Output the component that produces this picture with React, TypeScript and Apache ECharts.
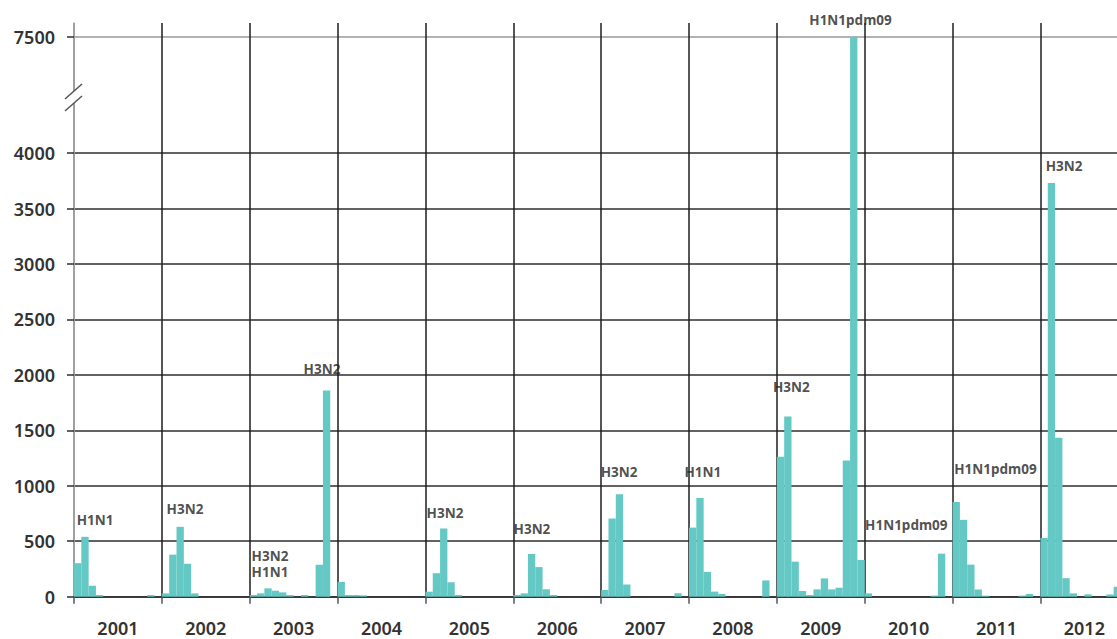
import React, { useEffect, useRef } from 'react';
import * as echarts from 'echarts';

const years = ['2001', '2002', '2003', '2004', '2005', '2006', '2007', '2008', '2009', '2010', '2011', '2012'];

const cases2001 = [302, 540, 99, 15, 0, 0, 0, 0, 0, 0, 15, 0];
const cases2002 = [30, 379, 630, 297, 30, 0, 0, 0, 0, 0, 0, 0];
const cases2003 = [15, 30, 75, 54, 39, 15, 0, 15, 0, 288, 1860, 0];
const cases2004 = [133, 15, 15, 12, 0, 0, 0, 0, 0, 0, 0, 0];
const cases2005 = [45, 212, 615, 130, 15, 0, 0, 0, 0, 0, 0, 0];
const cases2006 = [15, 30, 385, 267, 67, 15, 0, 0, 0, 0, 0, 0];
const cases2007 = [61, 705, 923, 110, 0, 0, 0, 0, 0, 0, 31, 0];
const cases2008 = [623, 890, 224, 46, 25, 0, 0, 0, 0, 0, 147, 0];
const cases2009 = [1263, 1624, 316, 51, 15, 66, 165, 66, 81, 1227, 7500, 331];
const cases2010 = [30, 0, 0, 0, 0, 0, 0, 0, 0, 10, 388, 0];
const cases2011 = [854, 693, 289, 65, 9, 0, 0, 0, 0, 10, 25, 0];
const cases2012 = [530, 3730, 1433, 167, 30, 0, 21, 0, 0, 20, 90, 0];

const yTickValues = [0, 500, 1000, 1500, 2000, 2500, 3000, 3500, 4000, 7500];

// annotations: subtype text, position in months from Jan 2001, value level
const annotationTexts = ['H1N1', 'H3N2', 'H3N2', 'H1N1', 'H3N2', 'H3N2', 'H3N2', 'H3N2', 'H1N1', 'H3N2', 'H1N1pdm09', 'H1N1pdm09', 'H1N1pdm09', 'H3N2'];
const annotationMonths = [2.87, 15.16, 26.77, 26.77, 33.87, 50.67, 62.55, 74.44, 85.88, 97.97, 106.06, 113.68, 125.86, 135.22];
const annotationValues = [692, 791, 366, 222, 2053, 755, 606, 1120, 1120, 1893, 8000, 647, 1152, 3884];

const BREAK_FROM = 4000;
const BREAK_SCALE = 0.3;
const toDisplay = (v: number) => (v <= BREAK_FROM ? v : BREAK_FROM + (v - BREAK_FROM) * BREAK_SCALE);
const fromDisplay = (d: number) => (d <= BREAK_FROM ? d : BREAK_FROM + (d - BREAK_FROM) / BREAK_SCALE);

const allCases = [
  ...cases2001, ...cases2002, ...cases2003, ...cases2004, ...cases2005, ...cases2006,
  ...cases2007, ...cases2008, ...cases2009, ...cases2010, ...cases2011, ...cases2012,
];
const monthCats: string[] = [];
years.forEach((y) => {
  for (let m = 1; m <= 12; m++) monthCats.push(`${y}-${m < 10 ? '0' : ''}${m}`);
});

const yDisplayTicks = yTickValues.map(toDisplay);
const ySplitColors = yTickValues.map((v) => (v > BREAK_FROM ? '#9a9a9a' : '#2e2e2e'));
const xSplitColors = Array.from({ length: years.length + 1 }, (_, i) => (i === 0 ? '#9a9a9a' : '#1e1e1e'));

const FONT = "'Noto Sans', 'DejaVu Sans', sans-serif";

export default function App() {
  const ref = useRef<HTMLDivElement>(null);
  useEffect(() => {
    if (!ref.current) return;
    const chart = echarts.init(ref.current, null, { renderer: 'svg' });
    const option: any = {
      animation: false,
      backgroundColor: '#ffffff',
      grid: { left: 74, top: 23, width: 1054.3, height: 573.7, containLabel: false },
      xAxis: [
        {
          type: 'category',
          data: years,
          position: 'bottom',
          boundaryGap: true,
          axisLine: { show: true, lineStyle: { color: '#2e2e2e', width: 1.5 } },
          axisTick: { show: true, interval: 0, length: 7, lineStyle: { color: '#555', width: 1.5 } },
          axisLabel: { interval: 0, margin: 22, fontSize: 18, color: '#333', fontFamily: FONT, fontWeight: 600 },
          splitLine: { show: true, interval: 0, lineStyle: { color: xSplitColors, width: 1.5 } },
        },
        { type: 'category', data: monthCats, position: 'top', show: false, boundaryGap: true },
        { type: 'value', min: 0, max: monthCats.length, position: 'top', show: false },
      ],
      yAxis: {
        type: 'value',
        min: 0,
        max: 5173,
        axisLine: { show: true, lineStyle: { color: '#9a9a9a', width: 1.5 } },
        axisTick: { show: true, length: 7, customValues: yDisplayTicks, lineStyle: { color: '#2e2e2e', width: 1.5 } },
        axisLabel: {
          customValues: yDisplayTicks,
          formatter: (v: number) => String(Math.round(fromDisplay(v))),
          margin: 19,
          fontSize: 18,
          color: '#333',
          fontFamily: FONT,
          fontWeight: 600,
        },
        splitLine: { show: true, lineStyle: { color: ySplitColors, width: 1.5 } },
      },
      series: [
        {
          type: 'bar',
          xAxisIndex: 1,
          yAxisIndex: 0,
          data: allCases.map(toDisplay),
          barCategoryGap: '0%',
          barGap: '0%',
          itemStyle: { color: '#64c8c5' },
          z: 3,
        },
        {
          type: 'scatter',
          xAxisIndex: 2,
          yAxisIndex: 0,
          clip: false,
          symbolSize: 1,
          itemStyle: { color: 'rgba(0,0,0,0)' },
          z: 5,
          label: {
            show: true,
            position: 'inside',
            fontFamily: FONT,
            fontWeight: 'bold',
            fontSize: 13.5,
            color: '#222',
            formatter: (p: any) => annotationTexts[p.dataIndex],
          },
          data: annotationMonths.map((m, i) => [m, toDisplay(annotationValues[i])]),
        },
      ],
      graphic: [
        {
          type: 'polygon',
          z: 100,
          shape: { points: [[65, 99], [82, 84], [82, 96], [65, 111]] },
          style: { fill: '#ffffff' },
        },
        { type: 'line', z: 101, shape: { x1: 65, y1: 99, x2: 82, y2: 84 }, style: { stroke: '#555', lineWidth: 1.5 } },
        { type: 'line', z: 101, shape: { x1: 65, y1: 111, x2: 82, y2: 96 }, style: { stroke: '#555', lineWidth: 1.5 } },
      ],
    };
    chart.setOption(option);
    return () => chart.dispose();
  }, []);
  return (
    <div style={{ position: 'absolute', left: 0, top: 0, width: 1117, height: 639, overflow: 'hidden', background: '#fff' }}>
      <div ref={ref} style={{ width: 1140, height: 639 }} />
    </div>
  );
}
